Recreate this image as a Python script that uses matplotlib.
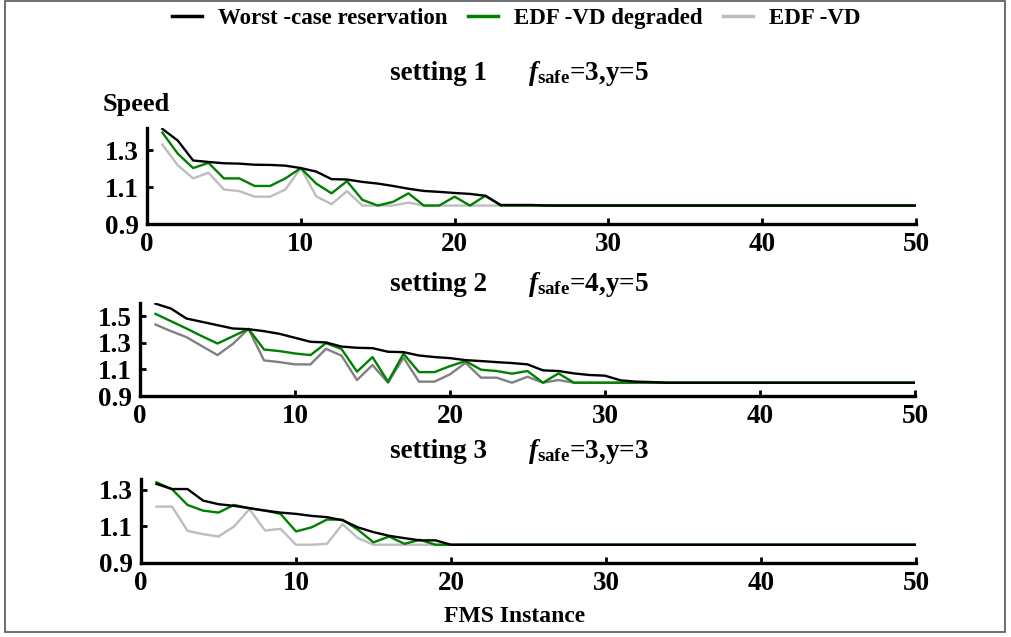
import matplotlib
matplotlib.use("Agg")
import matplotlib.pyplot as plt
from matplotlib.patches import Rectangle

plt.rcParams['font.family'] = ['Liberation Serif', 'DejaVu Serif']
plt.rcParams['font.weight'] = 'bold'
plt.rcParams['mathtext.fontset'] = 'custom'
plt.rcParams['mathtext.rm'] = 'Liberation Serif:bold'
plt.rcParams['mathtext.it'] = 'Liberation Serif:italic:bold'
plt.rcParams['mathtext.bf'] = 'Liberation Serif:bold'

# ---------------- data ----------------
instances = list(range(1, 51))
series_names = ["Worst -case reservation", "EDF -VD degraded", "EDF -VD"]
settings = ["setting 1", "setting 2", "setting 3"]
params = [r"$f_{\mathrm{safe}}$=3,y=5", r"$f_{\mathrm{safe}}$=4,y=5", r"$f_{\mathrm{safe}}$=3,y=3"]
x_ticks = [0, 10, 20, 30, 40, 50]

s1_worst = [1.415, 1.352, 1.244, 1.236, 1.229, 1.227, 1.221, 1.220, 1.216, 1.203,
            1.184, 1.143, 1.141, 1.128, 1.119, 1.106, 1.091, 1.079, 1.074, 1.068,
            1.063, 1.053, 1.003, 1.003, 1.003, 1.0, 1.0, 1.0, 1.0, 1.0,
            1.0, 1.0, 1.0, 1.0, 1.0, 1.0, 1.0, 1.0, 1.0, 1.0,
            1.0, 1.0, 1.0, 1.0, 1.0, 1.0, 1.0, 1.0, 1.0, 1.0]
s1_degraded = [1.395, 1.281, 1.203, 1.231, 1.147, 1.147, 1.106, 1.106, 1.147, 1.203,
               1.119, 1.066, 1.132, 1.031, 1.0, 1.02, 1.066, 1.0, 1.0, 1.048,
               1.0, 1.053, 1.0, 1.0, 1.0, 1.0, 1.0, 1.0, 1.0, 1.0,
               1.0, 1.0, 1.0, 1.0, 1.0, 1.0, 1.0, 1.0, 1.0, 1.0,
               1.0, 1.0, 1.0, 1.0, 1.0, 1.0, 1.0, 1.0, 1.0, 1.0]
s1_edfvd = [1.33, 1.218, 1.147, 1.178, 1.087, 1.078, 1.048, 1.048, 1.087, 1.203,
            1.05, 1.007, 1.078, 1.0, 1.0, 1.0, 1.016, 1.0, 1.0, 1.0,
            1.0, 1.0, 1.0, 1.0, 1.0, 1.0, 1.0, 1.0, 1.0, 1.0,
            1.0, 1.0, 1.0, 1.0, 1.0, 1.0, 1.0, 1.0, 1.0, 1.0,
            1.0, 1.0, 1.0, 1.0, 1.0, 1.0, 1.0, 1.0, 1.0, 1.0]

s2_worst = [1.595, 1.558, 1.483, 1.458, 1.433, 1.408, 1.403, 1.388, 1.368, 1.338,
            1.308, 1.303, 1.272, 1.263, 1.26, 1.233, 1.23, 1.205, 1.193, 1.185,
            1.17, 1.163, 1.155, 1.148, 1.138, 1.093, 1.088, 1.07, 1.058, 1.053,
            1.018, 1.008, 1.005, 1.0, 1.0, 1.0, 1.0, 1.0, 1.0, 1.0,
            1.0, 1.0, 1.0, 1.0, 1.0, 1.0, 1.0, 1.0, 1.0, 1.0]
s2_degraded = [1.518, 1.463, 1.408, 1.35, 1.295, 1.35, 1.405, 1.25, 1.238, 1.22,
               1.208, 1.298, 1.254, 1.083, 1.193, 1.008, 1.218, 1.08, 1.08, 1.125,
               1.163, 1.098, 1.088, 1.068, 1.088, 1.0, 1.07, 1.0, 1.0, 1.0,
               1.0, 1.0, 1.0, 1.0, 1.0, 1.0, 1.0, 1.0, 1.0, 1.0,
               1.0, 1.0, 1.0, 1.0, 1.0, 1.0, 1.0, 1.0, 1.0, 1.0]
s2_edfvd = [1.438, 1.388, 1.343, 1.275, 1.208, 1.293, 1.405, 1.168, 1.155, 1.138,
            1.138, 1.255, 1.204, 1.02, 1.133, 1.0, 1.188, 1.008, 1.008, 1.063,
            1.15, 1.038, 1.038, 1.0, 1.045, 1.0, 1.02, 1.0, 1.0, 1.0,
            1.0, 1.0, 1.0, 1.0, 1.0, 1.0, 1.0, 1.0, 1.0, 1.0,
            1.0, 1.0, 1.0, 1.0, 1.0, 1.0, 1.0, 1.0, 1.0, 1.0]

s3_worst = [1.333, 1.305, 1.305, 1.242, 1.222, 1.213, 1.20, 1.187, 1.176, 1.169,
            1.158, 1.151, 1.134, 1.095, 1.069, 1.049, 1.036, 1.024, 1.024, 1.0,
            1.0, 1.0, 1.0, 1.0, 1.0, 1.0, 1.0, 1.0, 1.0, 1.0,
            1.0, 1.0, 1.0, 1.0, 1.0, 1.0, 1.0, 1.0, 1.0, 1.0,
            1.0, 1.0, 1.0, 1.0, 1.0, 1.0, 1.0, 1.0, 1.0, 1.0]
s3_degraded = [1.342, 1.304, 1.218, 1.187, 1.176, 1.218, 1.20, 1.187, 1.169, 1.073,
               1.095, 1.138, 1.137, 1.082, 1.013, 1.045, 1.005, 1.027, 1.0, 1.0,
               1.0, 1.0, 1.0, 1.0, 1.0, 1.0, 1.0, 1.0, 1.0, 1.0,
               1.0, 1.0, 1.0, 1.0, 1.0, 1.0, 1.0, 1.0, 1.0, 1.0,
               1.0, 1.0, 1.0, 1.0, 1.0, 1.0, 1.0, 1.0, 1.0, 1.0]
s3_edfvd = [1.209, 1.209, 1.076, 1.058, 1.045, 1.10, 1.195, 1.078, 1.087, 1.0,
            1.0, 1.005, 1.113, 1.036, 1.0, 1.0, 1.0, 1.0, 1.0, 1.0,
            1.0, 1.0, 1.0, 1.0, 1.0, 1.0, 1.0, 1.0, 1.0, 1.0,
            1.0, 1.0, 1.0, 1.0, 1.0, 1.0, 1.0, 1.0, 1.0, 1.0,
            1.0, 1.0, 1.0, 1.0, 1.0, 1.0, 1.0, 1.0, 1.0, 1.0]

y_ticks = [[0.9, 1.1, 1.3], [0.9, 1.1, 1.3, 1.5], [0.9, 1.1, 1.3]]
y_tops = [1.42, 1.60, 1.36]

panel_data = [(s1_worst, s1_degraded, s1_edfvd),
              (s2_worst, s2_degraded, s2_edfvd),
              (s3_worst, s3_degraded, s3_edfvd)]

# ---------------- layout ----------------
W, H = 1012, 637
fig = plt.figure(figsize=(W / 100, H / 100), dpi=100)

def px_axes(left, right, top, bottom):
    return fig.add_axes([left / W, 1 - bottom / H, (right - left) / W, (bottom - top) / H])

boxes = [(147, 916, 128, 224), (140, 915, 303, 396), (141, 916, 479, 563)]
title_y = [73, 285, 452]
edf_gray = ['#bdbdbd', '#808080', '#bdbdbd']

FS = 16.5
TICK_FS = 19.5
TITLE_FS = 19.5
handles = None
for i, ax_box in enumerate(boxes):
    ax = px_axes(*ax_box)
    worst, degr, edf = panel_data[i]
    ax.plot(instances, edf, color=edf_gray[i], lw=1.7, label=series_names[2], zorder=2)
    lgr, = ax.plot(instances, degr, color='#008000', lw=1.7, label=series_names[1], zorder=3)
    lb, = ax.plot(instances, worst, color='black', lw=1.7, label=series_names[0], zorder=4)
    if handles is None:
        handles = [lb, lgr, plt.Line2D([], [], color='#bdbdbd', lw=2.5)]
    ax.set_xlim(0, 50)
    ax.set_ylim(0.9, y_tops[i])
    ax.set_xticks(x_ticks)
    ax.set_yticks(y_ticks[i])
    ax.set_yticklabels([f"{v:.1f}" for v in y_ticks[i]])
    for s in ['top', 'right']:
        ax.spines[s].set_visible(False)
    for s in ['left', 'bottom']:
        ax.spines[s].set_linewidth(2.4)
    ax.tick_params(direction='in', length=4, width=2, labelsize=TICK_FS, pad=6)
    for lab in ax.get_xticklabels() + ax.get_yticklabels():
        lab.set_fontweight('bold')
    ax.patch.set_alpha(0)
    fig.text(390 / W, 1 - title_y[i] / H, settings[i], fontsize=TITLE_FS, fontweight='bold',
             ha='left', va='center')
    fig.text(528 / W, 1 - title_y[i] / H, params[i], fontsize=TITLE_FS, fontweight='bold',
             ha='left', va='center')
    if i == 2:
        ax.set_xlabel("FMS Instance", fontsize=17, fontweight='bold')
        ax.xaxis.set_label_coords((515 - 141) / 775, -(617 - 563) / 84, transform=ax.transAxes)
        ax.xaxis.label.set_va('center')

fig.text(103 / W, 1 - 105 / H, "Speed", fontsize=19, fontweight='bold', ha='left', va='center')

leg = fig.legend(handles, series_names, loc='center', bbox_to_anchor=(516 / W, 1 - 18 / H),
                 ncol=3, frameon=False, handlelength=1.3, handletextpad=0.7,
                 columnspacing=0.9, prop={'weight': 'bold', 'size': FS})
for line in leg.get_lines():
    line.set_linewidth(2.5)

fig.patches.append(Rectangle((5 / W, 5 / H), 1000 / W, 631 / H, transform=fig.transFigure,
                             fill=False, edgecolor='#555555', lw=1.2))

fig.savefig("out.png", dpi=100)
